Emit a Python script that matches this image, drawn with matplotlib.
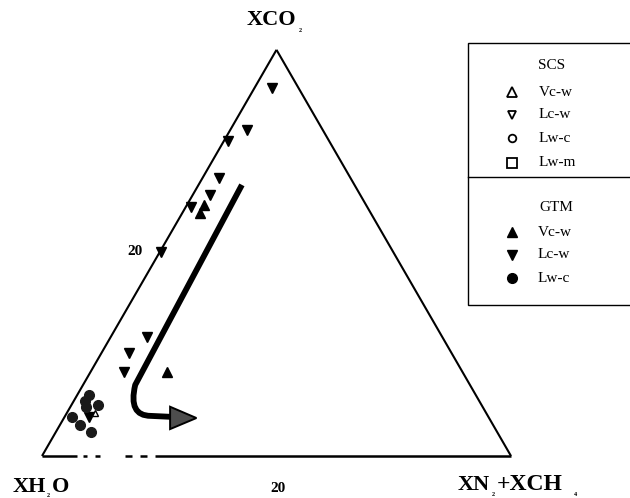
import numpy as np
import matplotlib
matplotlib.use("Agg")
import matplotlib.pyplot as plt
from matplotlib.path import Path
from matplotlib.patches import PathPatch, Polygon, Rectangle

plt.rcParams["font.family"] = ["Liberation Serif", "DejaVu Serif"]

SIDE = 40.0  # diagram side, mol %

# fluid inclusion compositions: XCO2 and XN2+XCH4 (mol %), remainder XH2O
gtm_vcw_co2 = [24.7, 23.9, 8.3]
gtm_vcw_n2 = [1.5, 1.5, 6.5]
gtm_lcw_co2 = [36.2, 32.1, 31.0, 27.4, 25.7, 24.5, 20.1, 11.7, 10.1, 8.3, 3.8]
gtm_lcw_n2 = [1.5, 1.4, 0.35, 1.4, 1.5, 0.5, 0.1, 3.1, 2.35, 2.85, 2.1]
gtm_lwc_co2 = [6.0, 5.4, 4.8, 5.0, 3.8, 3.05, 2.35]
gtm_lwc_n2 = [1.0, 0.95, 1.35, 2.25, 0.7, 1.7, 3.0]
scs_vcw_co2 = [4.2]
scs_vcw_n2 = [2.4]

# evolution trend (XCO2, XN2+XCH4)
trend_co2 = [26.7, 7.0, 3.95, 3.95, 3.85]
trend_n2 = [3.7, 4.45, 5.35, 7.3, 9.2]
head_co2 = [4.85, 3.74, 2.65]
head_n2 = [8.5, 11.3, 9.6]

# pieces of the base line that survived (XN2+XCH4 ranges)
base_pieces = [(0, 2.98), (3.5, 3.84), (4.52, 4.95), (7.08, 7.68),
               (8.36, 8.96), (9.64, 40)]

S3 = np.sqrt(3) / 2
PXU = 11.725  # pixels per mol %


def tern(co2, n2):
    co2 = np.asarray(co2, float)
    n2 = np.asarray(n2, float)
    return n2 + co2 / 2, co2 * S3


def px(x, y):
    return (x - 42) / PXU, (456 - y) / PXU


fig = plt.figure(figsize=(6.3, 4.98), dpi=100)
ax = fig.add_axes([0, 0, 1, 1])
ax.set_xlim(px(0, 0)[0], px(630, 0)[0])
ax.set_ylim(px(0, 498)[1], px(0, 0)[1])
ax.axis("off")

# triangle frame
apex = tern(SIDE, 0)
left = tern(0, 0)
right = tern(0, SIDE)
ax.plot([left[0], apex[0]], [left[1], apex[1]], color="black", lw=1.5,
        solid_capstyle="butt")
ax.plot([right[0], apex[0]], [right[1], apex[1]], color="black", lw=1.5,
        solid_capstyle="butt")
for a, b in base_pieces:
    ax.plot([a, b], [0, 0], color="black", lw=1.8, solid_capstyle="butt")

# trend arrow
tx, ty = tern(trend_co2, trend_n2)
verts = list(zip(tx, ty))
codes = [Path.MOVETO, Path.LINETO, Path.CURVE3, Path.CURVE3, Path.LINETO]
ax.add_patch(PathPatch(Path(verts, codes), facecolor="none",
                       edgecolor="black", lw=4.2, capstyle="butt",
                       joinstyle="round"))
hx, hy = tern(head_co2, head_n2)
ax.add_patch(Polygon(list(zip(hx, hy)), closed=True, facecolor="#4d4d4d",
                     edgecolor="black", lw=1.4))

# data points
x, y = tern(gtm_lcw_co2, gtm_lcw_n2)
ax.plot(x, y, "v", color="black", ms=6.5, ls="none")
x, y = tern(gtm_vcw_co2, gtm_vcw_n2)
ax.plot(x, y, "^", color="black", ms=6.5, ls="none")
x, y = tern(gtm_lwc_co2, gtm_lwc_n2)
ax.plot(x, y, "o", color="#1a1a1a", ms=7, ls="none")
x, y = tern(scs_vcw_co2, scs_vcw_n2)
ax.plot(x, y, "^", mfc="white", mec="black", mew=1.0, ms=4.5, ls="none")

# corner labels
bold = dict(fontsize=16, fontweight="bold", va="baseline", ha="left")
sub = dict(fontsize=4.5, fontweight="bold", va="baseline", ha="center")
ax.text(*px(247, 25), "XCO", **bold)
ax.text(*px(300, 32), "2", **sub)
ax.text(*px(13, 492), "XH", **bold)
ax.text(*px(48, 497), "2", **sub)
ax.text(*px(52, 492), "O", **bold)
ax.text(*px(458, 490), "XN", **bold)
ax.text(*px(493, 496), "2", **sub)
ax.text(*px(497, 490), "+XCH", fontsize=17, fontweight="bold",
        va="baseline", ha="left")
ax.text(*px(575, 496), "4", **sub)

# scale labels
ax.text(*px(135, 251), "20", fontsize=11, fontweight="bold",
        ha="center", va="center")
ax.text(*px(278, 488), "20", fontsize=11, fontweight="bold",
        ha="center", va="center")

# legend panel
x0, y0 = px(468, 305)
x1, y1 = px(640, 43)
ax.add_patch(Rectangle((x0, y0), x1 - x0, y1 - y0, facecolor="white",
                       edgecolor="black", lw=1.0, clip_on=False))
ax.plot([x0, x1], [px(0, 177)[1]] * 2, color="black", lw=1.0)

leg_font = dict(fontsize=11, ha="left", va="center")
ax.text(*px(538, 65), "SCS", **leg_font)
ax.text(*px(539, 207), "GTM", **leg_font)

scs_rows = [("^", 92, "Vc-w", 7), ("v", 115, "Lc-w", 6),
            ("o", 138, "Lw-c", 5.5), ("s", 163, "Lw-m", 6.5)]
for mk, yy, lab, ms in scs_rows:
    ax.plot(*px(512, yy), mk, mfc="white", mec="black", mew=1.3, ms=ms)
    ax.text(*px(539, yy), lab, **leg_font)

gtm_rows = [("^", 232, "Vc-w", 7.5), ("v", 255, "Lc-w", 7),
            ("o", 278, "Lw-c", 7)]
for mk, yy, lab, ms in gtm_rows:
    ax.plot(*px(512, yy), mk, color="black", ms=ms)
    ax.text(*px(538, yy), lab, **leg_font)

fig.savefig("out.png", dpi=100)
